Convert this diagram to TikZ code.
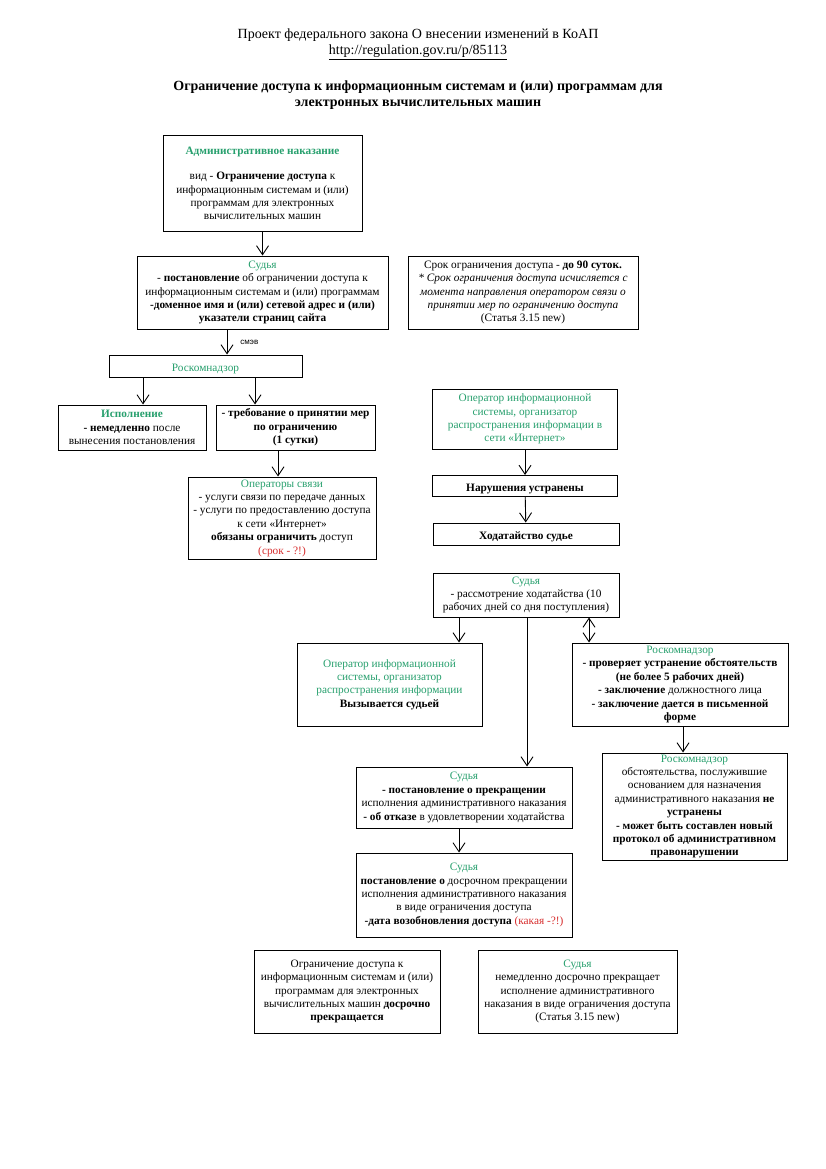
\documentclass[tikz,border=0pt]{standalone}
\usepackage{fontspec}
\setmainfont{Liberation Serif}
\newfontfamily\lblfont{Liberation Sans}
\usetikzlibrary{arrows.meta,calc}
\definecolor{grn}{RGB}{40,160,110}
\definecolor{rdd}{RGB}{215,45,45}
\newcommand{\gr}[1]{\textcolor{grn}{#1}}
\newcommand{\rd}[1]{\textcolor{rdd}{#1}}
\begin{document}
\begin{tikzpicture}[x=1pt,y=-1pt,
  box/.style={draw, line width=1pt, align=center, inner sep=0pt,
    font=\fontsize{11.3}{13.4}\selectfont,
    execute at begin node={\rule{0pt}{13.5pt}}},
  hdr/.style={align=center, inner sep=0pt, font=\fontsize{14}{16}\selectfont},
  arr/.style={line width=0.9pt, -{Straight Barb[length=9pt,width=12pt]}},
  darr/.style={line width=0.9pt, {Straight Barb[length=9pt,width=12pt]}-{Straight Barb[length=9pt,width=12pt]}},
  ln/.style={line width=0.9pt}]
\fill[white] (0,0) rectangle (826,1169);
\path[use as bounding box] (0,0) rectangle (826,1169);

% header
\node[hdr] (h1) at (418,35) {Проект федерального закона О внесении изменений в КоАП};
\node[hdr] (h2) at (418,52.5) {\underline{http://regulation.gov.ru/p/85113}};
\node[hdr, font=\fontsize{14}{16}\selectfont\bfseries] (h3) at (418,95)
  {Ограничение доступа к информационным системам и (или) программам для\\электронных вычислительных машин};

% column coordinates
\coordinate (c227) at (227,0);
\coordinate (c143) at (143,0);
\coordinate (c255) at (255,0);
\coordinate (c278) at (278,0);
\coordinate (c459) at (459,0);
\coordinate (c527) at (527,0);
\coordinate (c589) at (589,0);
\coordinate (c683) at (683,0);

% boxes
\node[box, minimum width=199, minimum height=95] (b1) at (262.5,183.5)
  {\textbf{\gr{Административное наказание}}\\[12pt]
   вид - \textbf{Ограничение доступа} к\\информационным системам и (или)\\программам для электронных\\вычислительных машин};

\node[box, minimum width=251, minimum height=73] (b2) at (262.5,292.5)
  {\gr{Судья}\\- \textbf{постановление} об ограничении доступа к\\информационным системам и (или) программам\\
   \textbf{-доменное имя и (или) сетевой адрес и (или)}\\\textbf{указатели страниц сайта}};

\node[box, minimum width=193, minimum height=22] (b3) at (205.5,366)
  {\gr{Роскомнадзор}};

\node[box, minimum width=148, minimum height=45] (b4) at (132,427.5)
  {\textbf{\gr{Исполнение}}\\\textbf{- немедленно} после\\вынесения постановления};

\node[box, minimum width=159, minimum height=45] (b5) at (295.5,427.5)
  {\textbf{- требование о принятии мер}\\\textbf{по ограничению}\\\textbf{(1 сутки)}};

\node[box, minimum width=188, minimum height=82] (b6) at (282,518)
  {\gr{Операторы связи}\\- услуги связи по передаче данных\\- услуги по предоставлению доступа\\к сети «Интернет»\\
   \textbf{обязаны ограничить} доступ\\\rd{(срок - ?!)}};

\node[box, minimum width=230, minimum height=73] (b7) at (523,292.5)
  {Срок ограничения доступа - \textbf{до 90 суток.}\\\textit{* Срок ограничения доступа исчисляется с}\\
   \textit{момента направления оператором связи о}\\\textit{принятии мер по ограничению доступа}\\(Статья 3.15 new)};

\node[box, minimum width=185, minimum height=60] (b8) at (525,419)
  {\gr{Оператор информационной}\\\gr{системы, организатор}\\\gr{распространения информации в}\\\gr{сети «Интернет»}};

\node[box, minimum width=185, minimum height=21] (b9) at (525,486)
  {\textbf{Нарушения устранены}};

\node[box, minimum width=186, minimum height=22] (b10) at (526,534)
  {\textbf{Ходатайство судье}};

\node[box, minimum width=186, minimum height=44] (b11) at (526,595)
  {\gr{Судья}\\- рассмотрение ходатайства (10\\рабочих дней со дня поступления)};

\node[box, minimum width=185, minimum height=83] (b12) at (389.5,684.5)
  {\gr{Оператор информационной}\\\gr{системы, организатор}\\\gr{распространения информации}\\\textbf{Вызывается судьей}};

\node[box, minimum width=216, minimum height=83] (b13) at (680,684.5)
  {\gr{Роскомнадзор}\\\textbf{- проверяет устранение обстоятельств}\\\textbf{(не более 5 рабочих дней)}\\
   \textbf{- заключение} должностного лица\\\textbf{- заключение дается в письменной}\\\textbf{форме}};

\node[box, minimum width=185, minimum height=107] (b14) at (694.5,806.5)
  {\gr{Роскомнадзор}\\обстоятельства, послужившие\\основанием для назначения\\административного наказания \textbf{не}\\
   \textbf{устранены}\\\textbf{- может быть составлен новый}\\\textbf{протокол об административном}\\\textbf{правонарушении}};

\node[box, minimum width=216, minimum height=61] (b15) at (464,797.5)
  {\gr{Судья}\\\textbf{- постановление о прекращении}\\исполнения административного наказания\\\textbf{- об отказе} в удовлетворении ходатайства};

\node[box, minimum width=216, minimum height=84] (b16) at (464,895)
  {\gr{Судья}\\\textbf{постановление о} досрочном прекращении\\исполнения административного наказания\\в виде ограничения доступа\\
   \textbf{-дата возобновления доступа} \rd{(какая -?!)}};

\node[box, minimum width=186, minimum height=83] (b17) at (347,991.5)
  {Ограничение доступа к\\информационным системам и (или)\\программам для электронных\\вычислительных машин \textbf{досрочно}\\\textbf{прекращается}};

\node[box, minimum width=199, minimum height=83] (b18) at (577.5,991.5)
  {\gr{Судья}\\немедленно досрочно прекращает\\исполнение административного\\наказания в виде ограничения доступа\\(Статья 3.15 new)};

% connectors
\draw[arr] (b1) -- (b2);
\draw[arr] (b2.south -| c227) -- (b3.north -| c227)
  node[pos=0.5, right=13pt, inner sep=0pt, font=\lblfont\fontsize{8}{9}\selectfont] (lbl) {смэв};
\draw[arr] (b3.south -| c143) -- (b4.north -| c143);
\draw[arr] (b3.south -| c255) -- (b5.north -| c255);
\draw[arr] (b5.south -| c278) -- (b6.north -| c278);
\draw[arr] (b8) -- (b9);
\draw[arr] (b9) -- (b10);
\draw[arr] (b11.south -| c459) -- (b12.north -| c459);
\draw[arr] (b11.south -| c527) -- (b15.north -| c527);
\draw[darr] (b11.south -| c589) -- (b13.north -| c589);
\draw[arr] (b13.south -| c683) -- (b14.north -| c683);
\draw[arr] (b15.south -| c459) -- (b16.north -| c459);
\end{tikzpicture}
\end{document}
